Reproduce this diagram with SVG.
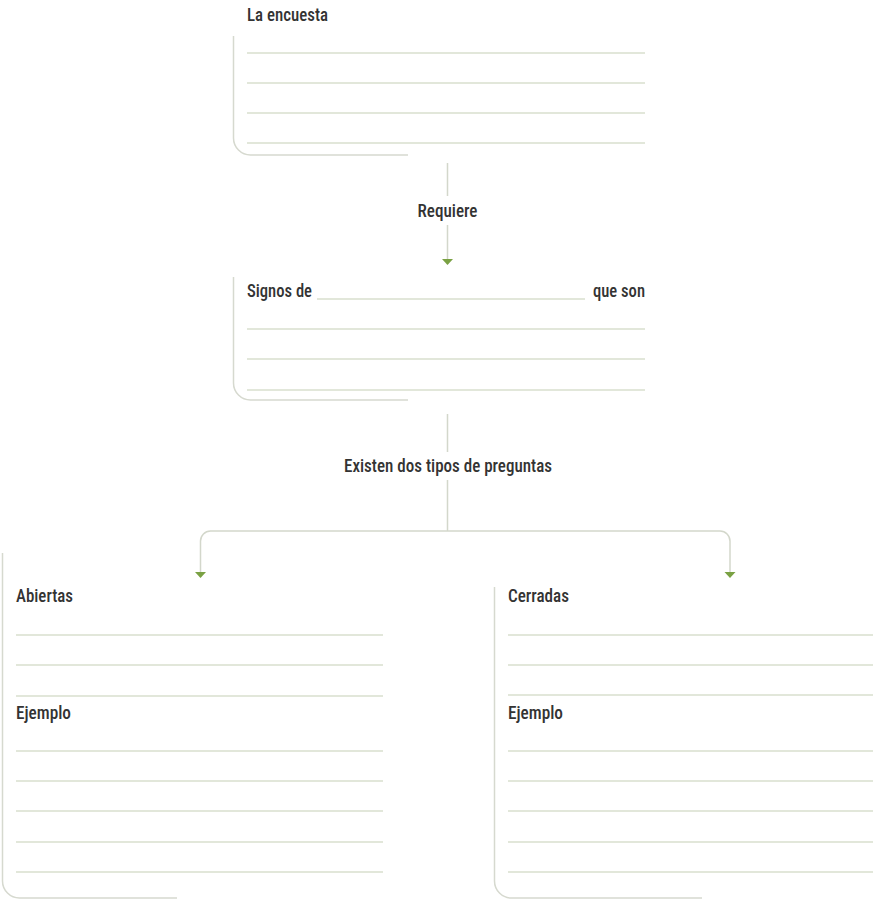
<svg xmlns="http://www.w3.org/2000/svg" width="873" height="900" viewBox="0 0 873 900">
<defs>
<style>
.t{font-family:"Liberation Sans Narrow","Roboto Condensed","DejaVu Sans Condensed","Liberation Sans",sans-serif;font-stretch:condensed;font-size:18px;font-weight:500;fill:#333333}
.r{stroke:#d9dfce;stroke-width:1.3;fill:none}
.b{stroke:#d6d9cf;stroke-width:1.5;fill:none}
.c{stroke:#d3d7cb;stroke-width:1.5;fill:none}
.a{fill:#7aa143}
</style>
</defs>
<rect width="873" height="900" fill="#ffffff"/>
<g id="connectors">
<path class="c" d="M447.5,163 V196"/>
<path class="c" d="M447.5,225 V259"/>
<polygon class="a" points="442,259 453,259 447.5,265"/>
<path class="c" d="M447.5,414 V452"/>
<path class="c" d="M447.5,480 V531"/>
<path class="c" d="M200.5,572 V541 A10,10 0 0 1 210.5,531 H720 A10,10 0 0 1 730,541 V572"/>
<polygon class="a" points="195,572 206,572 200.5,578"/>
<polygon class="a" points="724.5,572 735.5,572 730,578"/>
<text class="t" x="447.5" y="217" text-anchor="middle" textLength="60" lengthAdjust="spacingAndGlyphs">Requiere</text>
<text class="t" x="448" y="472" text-anchor="middle" textLength="208" lengthAdjust="spacingAndGlyphs">Existen dos tipos de preguntas</text>
</g>
<g id="node-encuesta">
<text class="t" x="247" y="21" textLength="81" lengthAdjust="spacingAndGlyphs">La encuesta</text>
<path class="b" d="M233.5,36 V138 A17,17 0 0 0 250.5,155 H408"/>
<path class="r" d="M247,53 H645 M247,83 H645 M247,113 H645 M247,143 H645"/>
</g>
<g id="node-signos">
<text class="t" x="247" y="297" textLength="65" lengthAdjust="spacingAndGlyphs">Signos de</text>
<path class="r" d="M317,299 H585"/>
<text class="t" x="593" y="297" textLength="52" lengthAdjust="spacingAndGlyphs">que son</text>
<path class="b" d="M233.5,277 V383 A17,17 0 0 0 250.5,400 H408"/>
<path class="r" d="M247,329 H645 M247,359 H645 M247,390 H645"/>
</g>
<g id="node-abiertas">
<text class="t" x="16" y="602" textLength="57" lengthAdjust="spacingAndGlyphs">Abiertas</text>
<text class="t" x="16" y="719" textLength="55" lengthAdjust="spacingAndGlyphs">Ejemplo</text>
<path class="b" d="M2.5,553 V881 A17,17 0 0 0 19.5,898 H177"/>
<path class="r" d="M16,635 H383 M16,665 H383 M16,696 H383 M16,751 H383 M16,781 H383 M16,811 H383 M16,842 H383 M16,872 H383"/>
</g>
<g id="node-cerradas">
<text class="t" x="508" y="602" textLength="61" lengthAdjust="spacingAndGlyphs">Cerradas</text>
<text class="t" x="508" y="719" textLength="55" lengthAdjust="spacingAndGlyphs">Ejemplo</text>
<path class="b" d="M494.5,587 V881 A17,17 0 0 0 511.5,898 H702"/>
<path class="r" d="M508,635 H873 M508,665 H873 M508,695 H873 M508,751 H873 M508,781 H873 M508,811 H873 M508,842 H873 M508,872 H873"/>
</g>
</svg>
